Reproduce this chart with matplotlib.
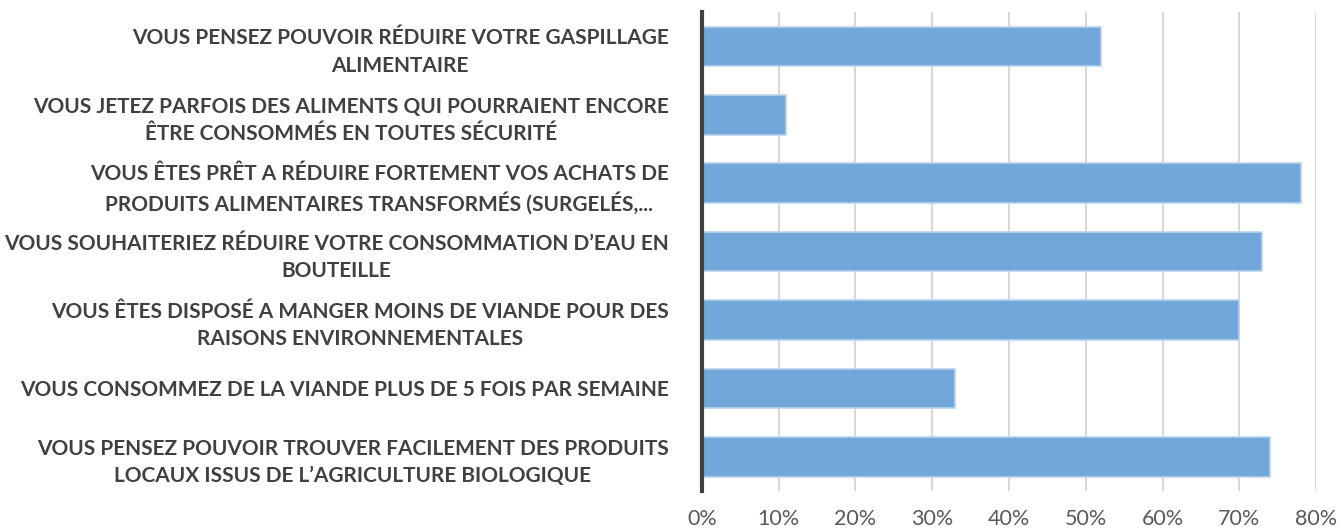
import matplotlib
matplotlib.use("Agg")
import matplotlib.pyplot as plt
from matplotlib.ticker import PercentFormatter

# Données (en %)
categories = [
    "VOUS PENSEZ POUVOIR RÉDUIRE VOTRE GASPILLAGE\nALIMENTAIRE",
    "VOUS JETEZ PARFOIS DES ALIMENTS QUI POURRAIENT ENCORE\nÊTRE CONSOMMÉS EN TOUTES SÉCURITÉ",
    "VOUS ÊTES PRÊT A RÉDUIRE FORTEMENT VOS ACHATS DE\nPRODUITS ALIMENTAIRES TRANSFORMÉS (SURGELÉS,...",
    "VOUS SOUHAITERIEZ RÉDUIRE VOTRE CONSOMMATION D’EAU EN\nBOUTEILLE",
    "VOUS ÊTES DISPOSÉ A MANGER MOINS DE VIANDE POUR DES\nRAISONS ENVIRONNEMENTALES",
    "VOUS CONSOMMEZ DE LA VIANDE PLUS DE 5 FOIS PAR SEMAINE",
    "VOUS PENSEZ POUVOIR TROUVER FACILEMENT DES PRODUITS\nLOCAUX ISSUS DE L’AGRICULTURE BIOLOGIQUE",
]
valeurs = [52, 11, 78, 73, 70, 33, 74]
x_ticks = [0, 10, 20, 30, 40, 50, 60, 70, 80]

plt.rcParams['font.family'] = ['Lato', 'DejaVu Sans']

fig = plt.figure(figsize=(13.42, 5.31), dpi=100)
ax = fig.add_axes([0.523, 0.0753, 0.4577, 0.9017])

y = list(range(len(categories)))
ax.barh(y, valeurs, height=0.58, color='#71a7da', edgecolor='#b8d3ee', linewidth=1.2, zorder=3)

ax.set_ylim(len(categories) - 0.5, -0.5)
ax.set_xlim(0, 80)
ax.set_xticks(x_ticks)
ax.xaxis.set_major_formatter(PercentFormatter(decimals=0))
ax.grid(axis='x', color='#d9d9d9', linewidth=1.5, zorder=0)

ax.set_yticks(y)
ax.set_yticklabels(categories, fontsize=15, fontweight='bold', color='#404040',
                   multialignment='center', linespacing=1.45)
ax.tick_params(axis='y', length=0, pad=24)
ax.tick_params(axis='x', length=0, pad=13, labelsize=15.5, labelcolor='#595959')

for side in ['top', 'right', 'bottom']:
    ax.spines[side].set_visible(False)
ax.spines['left'].set_color('#404040')
ax.spines['left'].set_linewidth(3)
ax.spines['left'].set_zorder(4)

fig.savefig("out.png", dpi=100)
